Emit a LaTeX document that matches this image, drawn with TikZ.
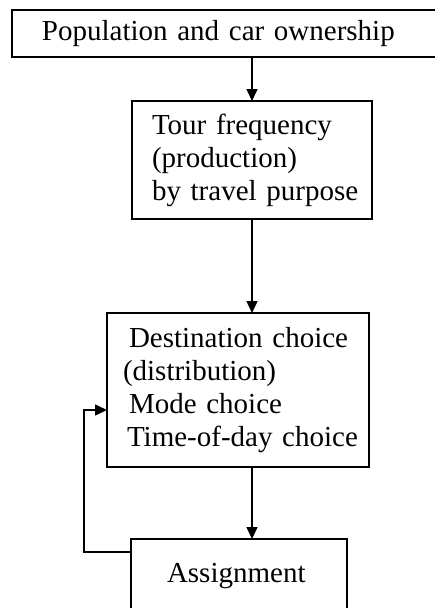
\documentclass[tikz,border=0pt]{standalone}
\usepackage{fontspec}
\setmainfont{Liberation Serif}
\usetikzlibrary{arrows.meta, positioning}

\begin{document}
\begin{tikzpicture}[x=1pt, y=-1pt,
                    block/.style={rectangle, draw, line width=1.5pt, align=left, outer sep=0pt, inner xsep=0pt,
                                  font=\fontsize{29}{33}\selectfont},
                    arr/.style={-{Triangle[length=12pt, width=11pt]}, line width=1.5pt},
                    node distance=0.5cm]
\useasboundingbox (0,0) rectangle (435,608);

% Place the blocks one under the other
\node[block, anchor=north west, text width=428pt, minimum height=47pt] (pop) at (12,10) {\hspace*{30pt}Population and car ownership};
\node[block, below=44pt of pop, xshift=26pt, text width=240pt, minimum height=118pt] (tour) {\hspace*{20pt}Tour frequency\\\hspace*{20pt}(production)\\\hspace*{20pt}by travel purpose};
\node[block, below=94pt of tour, xshift=-14pt, text width=262pt, minimum height=154pt] (dest) {\hspace*{22pt}Destination choice\\\hspace*{16pt}(distribution)\\\hspace*{22pt}Mode choice\\\hspace*{20pt}Time-of-day choice};
\node[block, below=72pt of dest, xshift=1pt, text width=216pt, minimum height=74pt] (assign) {\hspace*{36pt}Assignment};

% Arrows down the chain
\draw[arr] (tour.north |- pop.south) -- (tour.north);
\draw[arr] (tour.south) -- (tour.south |- dest.north);
\draw[arr] (dest.south -| tour.south) -- (assign.north -| tour.south);

% Feedback from assignment
\draw[arr] ([yshift=-13pt]assign.north west) -- ++(-47,0) |- ([yshift=-20pt]dest.west);

\end{tikzpicture}
\end{document}
